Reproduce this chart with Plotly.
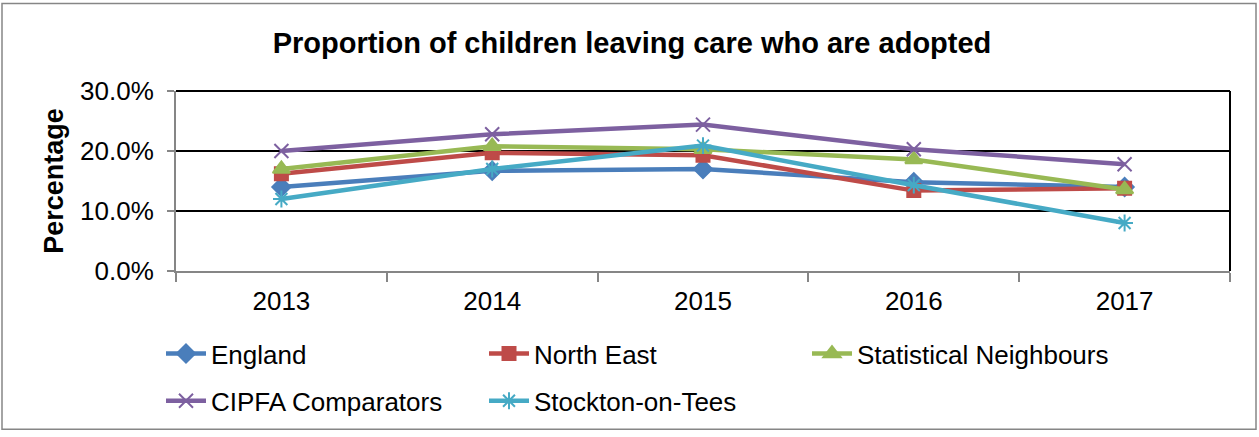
import plotly.graph_objects as go

years = ["2013", "2014", "2015", "2016", "2017"]
england = [0.140, 0.167, 0.170, 0.148, 0.140]
north_east = [0.162, 0.197, 0.193, 0.134, 0.138]
stat_neigh = [0.170, 0.208, 0.203, 0.186, 0.136]
cipfa = [0.200, 0.228, 0.244, 0.203, 0.178]
stockton = [0.120, 0.170, 0.209, 0.143, 0.080]

series = [
    ("England", england, "#4A7EBB", "diamond", 14, "legend"),
    ("North East", north_east, "#BE4B48", "square", 13, "legend"),
    ("Statistical Neighbours", stat_neigh, "#98B954", "triangle-up", 15, "legend"),
    ("CIPFA Comparators", cipfa, "#7D60A0", "x-thin-open", 14, "legend2"),
    ("Stockton-on-Tees", stockton, "#46AAC5", "asterisk-open", 14, "legend2"),
]

W, H = 1259, 437
L, R, T, B = 176, 1230, 91, 274
pw, ph = R - L, B - T

fig = go.Figure()
for name, vals, col, sym, sz, lg in series:
    fig.add_trace(go.Scatter(
        x=years, y=vals, name=name, mode="lines+markers", legend=lg,
        line=dict(color=col, width=4.5),
        marker=dict(symbol=sym, size=sz, color=col, line=dict(color=col, width=2)),
    ))

def px(x):
    return (x - L) / pw

def py(y):
    return (B - y) / ph

FONT = "Liberation Sans, Arial, sans-serif"
leg_common = dict(orientation="h", x=px(161), xanchor="left", yanchor="middle",
                  font=dict(size=26, family=FONT), entrywidth=268,
                  entrywidthmode="pixels", traceorder="normal", itemwidth=40,
                  bgcolor="rgba(0,0,0,0)")
fig.update_layout(
    width=W, height=H,
    margin=dict(l=L, r=W - R, t=T, b=H - B),
    paper_bgcolor="white", plot_bgcolor="white",
    font=dict(family=FONT, color="black", size=26),
    title=dict(text="<b>Proportion of children leaving care who are adopted</b>",
               x=632 / W, xanchor="center",
               y=1 - 43 / H, yanchor="middle", yref="container",
               font=dict(size=29, family=FONT, color="black")),
    showlegend=True,
    legend=dict(y=py(358), **leg_common),
    legend2=dict(y=py(406), **leg_common),
    xaxis=dict(type="category", range=[-0.5, 4.5], tickson="boundaries",
               showline=True, linecolor="#868686", linewidth=2,
               ticks="outside", ticklen=9, tickwidth=2, tickcolor="#868686",
               showgrid=False, tickfont=dict(size=26), ticklabelstandoff=6,
               fixedrange=True),
    yaxis=dict(range=[0, 0.3], dtick=0.1, tickformat=".1%",
               showline=True, linecolor="#868686", linewidth=2,
               ticks="outside", ticklen=7, tickwidth=2, tickcolor="#868686",
               showgrid=True, gridcolor="black", gridwidth=2,
               tickfont=dict(size=26), ticklabelstandoff=8, zeroline=False,
               title=dict(text="<b>Percentage</b>", font=dict(size=27, family=FONT),
                          standoff=9)),
    shapes=[
        dict(type="line", xref="paper", yref="paper", x0=0, x1=1, y0=1, y1=1,
             line=dict(color="black", width=2), layer="above"),
        dict(type="line", xref="paper", yref="paper", x0=1, x1=1, y0=0, y1=1,
             line=dict(color="black", width=2), layer="above"),
        dict(type="rect", xref="paper", yref="paper",
             x0=px(2), x1=px(1256), y0=py(435), y1=py(2),
             line=dict(color="#868686", width=1.5), layer="below"),
    ],
)

fig.write_html("out.html")
